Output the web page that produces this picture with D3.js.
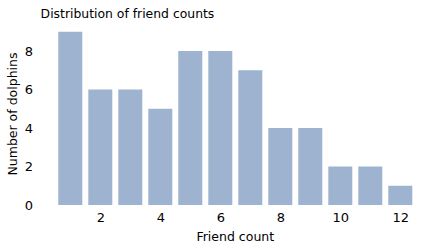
<!DOCTYPE html>
<html><head><meta charset="utf-8">
<script src="https://cdn.jsdelivr.net/npm/d3@7"></script>
<style>body{margin:0;background:#fff}svg{display:block}text{font-family:"DejaVu Sans",sans-serif;fill:#000}</style>
</head><body>
<script>
const friendCounts = [1,2,3,4,5,6,7,8,9,10,11,12];
const dolphinCounts = [9,6,6,5,8,8,7,4,4,2,2,1];
const xTicks = [2,4,6,8,10,12];
const yTicks = [0,2,4,6,8];

const W = 438, H = 250;
const m = {left: 40.6, right: 8, top: 23.1, bottom: 45};
const svg = d3.select("body").append("svg").attr("width", W).attr("height", H);

const x = d3.scaleLinear().domain([0.01, 12.99]).range([m.left, W - m.right]);
const y = d3.scaleLinear().domain([0, 9.45]).range([H - m.bottom, m.top]);
const bw = x(0.8) - x(0);

svg.append("g").selectAll("rect").data(friendCounts).join("rect")
  .attr("x", (d) => x(d) - bw / 2)
  .attr("width", bw)
  .attr("y", (d, i) => y(dolphinCounts[i]))
  .attr("height", (d, i) => y(0) - y(dolphinCounts[i]))
  .attr("fill", "#9db3cf");

const xa = svg.append("g").attr("transform", `translate(0,${H - m.bottom})`)
  .call(d3.axisBottom(x).tickValues(xTicks).tickSize(0).tickPadding(8));
xa.select(".domain").remove();
xa.selectAll("text").attr("font-size", 13).attr("font-family", "DejaVu Sans");

const ya = svg.append("g").attr("transform", `translate(${m.left},0)`)
  .call(d3.axisLeft(y).tickValues(yTicks).tickSize(0).tickPadding(7.5));
ya.select(".domain").remove();
ya.selectAll("text").attr("font-size", 13).attr("font-family", "DejaVu Sans");

svg.append("text").attr("x", (m.left + W - m.right) / 2).attr("y", 240.5)
  .attr("text-anchor", "middle").attr("font-size", 12.5).text("Friend count");
svg.append("text").attr("transform", `translate(17,${(m.top + H - m.bottom) / 2}) rotate(-90)`)
  .attr("text-anchor", "middle").attr("font-size", 12.5).text("Number of dolphins");
svg.append("text").attr("x", m.left).attr("y", 18).attr("font-size", 12.4)
  .text("Distribution of friend counts");
</script>
</body></html>
